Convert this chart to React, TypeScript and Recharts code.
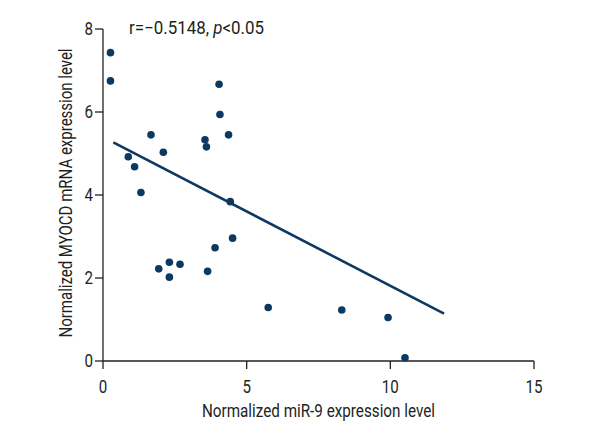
import { ComposedChart, Scatter, XAxis, YAxis, ReferenceLine } from "recharts";

// values
const mir9 = [0.26, 0.26, 0.88, 1.1, 1.32, 1.67, 2.1, 3.55, 3.6, 4.04, 4.07, 4.37, 4.43, 1.94, 2.31, 2.31, 2.68, 3.64, 3.9, 4.51, 5.75, 8.31, 9.92, 10.51];
const myocd = [7.43, 6.75, 4.92, 4.68, 4.06, 5.45, 5.03, 5.33, 5.16, 6.67, 5.94, 5.45, 3.84, 2.22, 2.38, 2.02, 2.33, 2.16, 2.73, 2.96, 1.29, 1.23, 1.05, 0.08];
const fitX = [0.36, 11.87];
const fitY = [5.27, 1.14];
const xTicks = [0, 5, 10, 15];
const yTicks = [0, 2, 4, 6, 8];
const rText = "r=\u22120.5148, ";
const pText = "p";
const pRest = "<0.05";

// the original uses a condensed face; squeeze a normal one to the same widths
const FONT = "Roboto, 'Liberation Sans', sans-serif";
const INK = "#231f20";
const DOT = "#0d3862";
const DIGIT_W = 8.5;

const points = mir9.map((x, i) => ({ x, y: myocd[i] }));

const Dot = (props: any) => <circle cx={props.cx} cy={props.cy} r={3.8} fill={DOT} />;

const XTick = (props: any) => {
  const s = String(props.payload.value);
  const w = s.length * DIGIT_W;
  return (
    <text x={props.x - w / 2} y={props.y + 13} textLength={w} lengthAdjust="spacingAndGlyphs" fontFamily={FONT} fontSize={18} fill={INK}>
      {s}
    </text>
  );
};

const YTick = (props: any) => {
  const s = String(props.payload.value);
  const w = s.length * DIGIT_W;
  return (
    <text x={props.x - w} y={props.y + 6.4} textLength={w} lengthAdjust="spacingAndGlyphs" fontFamily={FONT} fontSize={18} fill={INK}>
      {s}
    </text>
  );
};

const XTitle = (props: any) => {
  const vb = props.viewBox;
  const w = 233;
  return (
    <text x={vb.x + vb.width / 2 - w / 2} y={vb.y + 56} textLength={w} lengthAdjust="spacingAndGlyphs" fontFamily={FONT} fontSize={18} fill={INK}>
      Normalized miR-9 expression level
    </text>
  );
};

const YTitle = (props: any) => {
  const vb = props.viewBox;
  const w = 289;
  const cx = vb.x + 72.3;
  const cy = vb.y + vb.height / 2 - 2;
  return (
    <text x={cx - w / 2} y={cy} transform={`rotate(-90 ${cx} ${cy})`} textLength={w} lengthAdjust="spacingAndGlyphs" fontFamily={FONT} fontSize={18} fill={INK}>
      Normalized MYOCD mRNA expression level
    </text>
  );
};

export default function App() {
  return (
    <div style={{ position: "absolute", left: 0, top: 0, width: 600, height: 440, background: "#fff" }}>
      <ComposedChart width={600} height={440} data={points} margin={{ top: 29, right: 66, bottom: 0, left: 0 }}>
        <XAxis
          dataKey="x"
          type="number"
          domain={[0, 15]}
          ticks={xTicks}
          height={79}
          tickSize={8}
          tickMargin={11}
          stroke={INK}
          strokeWidth={1.3}
          tick={<XTick />}
          label={<XTitle />}
        />
        <YAxis
          dataKey="y"
          type="number"
          domain={[0, 8]}
          ticks={yTicks}
          width={103}
          tickSize={8}
          tickMargin={2}
          stroke={INK}
          strokeWidth={1.3}
          tick={<YTick />}
          label={<YTitle />}
        />
        <ReferenceLine
          segment={[{ x: fitX[0], y: fitY[0] }, { x: fitX[1], y: fitY[1] }]}
          stroke={DOT}
          strokeWidth={2.6}
          ifOverflow="visible"
        />
        <Scatter dataKey="y" shape={<Dot />} isAnimationActive={false} />
        <text x={129} y={34} textLength={135} lengthAdjust="spacingAndGlyphs" fontFamily={FONT} fontSize={18} fill={INK}>
          {rText}
          <tspan fontStyle="italic">{pText}</tspan>
          {pRest}
        </text>
      </ComposedChart>
    </div>
  );
}
